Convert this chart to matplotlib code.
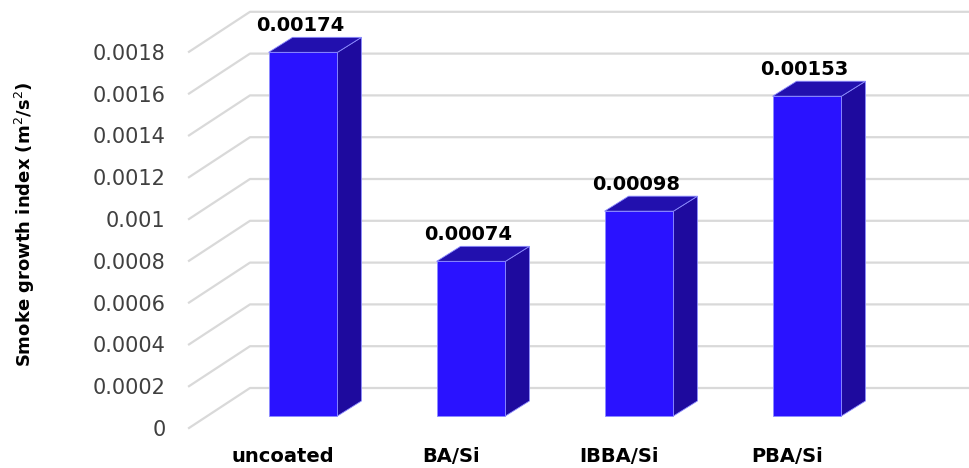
import numpy as np
import matplotlib
matplotlib.use("Agg")
import matplotlib.pyplot as plt
from matplotlib.patches import Polygon
from matplotlib.lines import Line2D
from matplotlib.transforms import IdentityTransform

categories = ["uncoated", "BA/Si", "IBBA/Si", "PBA/Si"]
values = [0.00174, 0.00074, 0.00098, 0.00153]
value_labels = ["0.00174", "0.00074", "0.00098", "0.00153"]
yticks = [0, 0.0002, 0.0004, 0.0006, 0.0008, 0.001, 0.0012, 0.0014, 0.0016, 0.0018]

front_col = "#2a12ff"
side_col = "#1e0a9e"
top_col = "#2210ae"
edge_col = "#8c8cff"
grid_col = "#d9d9d9"

W, H, DPI = 970, 468, 100
fig = plt.figure(figsize=(W / DPI, H / DPI), dpi=DPI)
ax = fig.add_axes([0, 0, 1, 1])
# data space = front edge of the floor; 168 px per category, 209000 px per unit
ax.set_xlim(-285 / 168, (W - 285) / 168)
ax.set_ylim(-40 / 209000, (H - 40) / 209000)
for s in ax.spines.values():
    s.set_visible(False)
ax.set_xticks([])

# oblique offsets in pixels
wall_x = -0.5714          # left edge of the floor
wall_dx, wall_dy = 61, 40  # depth of the back wall
bar_dx, bar_dy = 18, 12    # front face of bars
dep_dx, dep_dy = 24, 15    # bar depth
bar_w = 0.41

def px(x, y, dx=0, dy=0):
    p = ax.transData.transform((x, y))
    return (p[0] + dx, p[1] + dy)

ident = IdentityTransform()

# side wall + back wall gridlines
xmax = ax.get_xlim()[1]
for t in yticks:
    a = px(wall_x, t)
    b = px(wall_x, t, wall_dx, wall_dy)
    c = px(xmax, t, wall_dx, wall_dy)
    ax.add_line(Line2D([a[0], b[0], c[0]], [a[1], b[1], c[1]], color=grid_col,
                       lw=1.6, transform=ident, zorder=1))

# y tick labels on the floor front edge
ax.spines["left"].set_position(("data", wall_x))
ax.set_yticks(yticks)
ax.set_yticklabels([f"{t:g}" for t in yticks])
ax.tick_params(axis="y", length=0, pad=17, labelsize=15, labelcolor="#404040")

# bars drawn as three faces each
for i, v in enumerate(values):
    x0, x1 = i - bar_w / 2, i + bar_w / 2
    fl = px(x0, 0, bar_dx, bar_dy)
    fr = px(x1, 0, bar_dx, bar_dy)
    tl = px(x0, v, bar_dx, bar_dy)
    tr = px(x1, v, bar_dx, bar_dy)
    d = (dep_dx, dep_dy)
    front = [fl, fr, tr, tl]
    side = [fr, (fr[0] + d[0], fr[1] + d[1]), (tr[0] + d[0], tr[1] + d[1]), tr]
    top = [tl, tr, (tr[0] + d[0], tr[1] + d[1]), (tl[0] + d[0], tl[1] + d[1])]
    ax.add_patch(Polygon(side, closed=True, fc=side_col, ec=edge_col, lw=0.6,
                         transform=ident, zorder=3))
    ax.add_patch(Polygon(top, closed=True, fc=top_col, ec=edge_col, lw=0.6,
                         transform=ident, zorder=3))
    ax.add_patch(Polygon(front, closed=True, fc=front_col, ec=edge_col, lw=0.6,
                         transform=ident, zorder=4))
    lx, ly = px(i, v, bar_dx - 3, bar_dy + dep_dy + 2)
    ax.text(lx, ly, value_labels[i], transform=ident, ha="center", va="bottom",
            fontsize=14, fontweight="bold", color="black", zorder=5)
    cx, cy = px(i, 0)
    ax.text(cx - 2, cy - 28, categories[i], transform=ident, ha="center", va="center",
            fontsize=14, fontweight="bold", color="black")

fig.text(25 / W, 1 - 224 / H, "Smoke growth index (m$^2$/s$^2$)", rotation=90,
         ha="center", va="center", fontsize=13, fontweight="bold")

fig.savefig("out.png", dpi=DPI)
